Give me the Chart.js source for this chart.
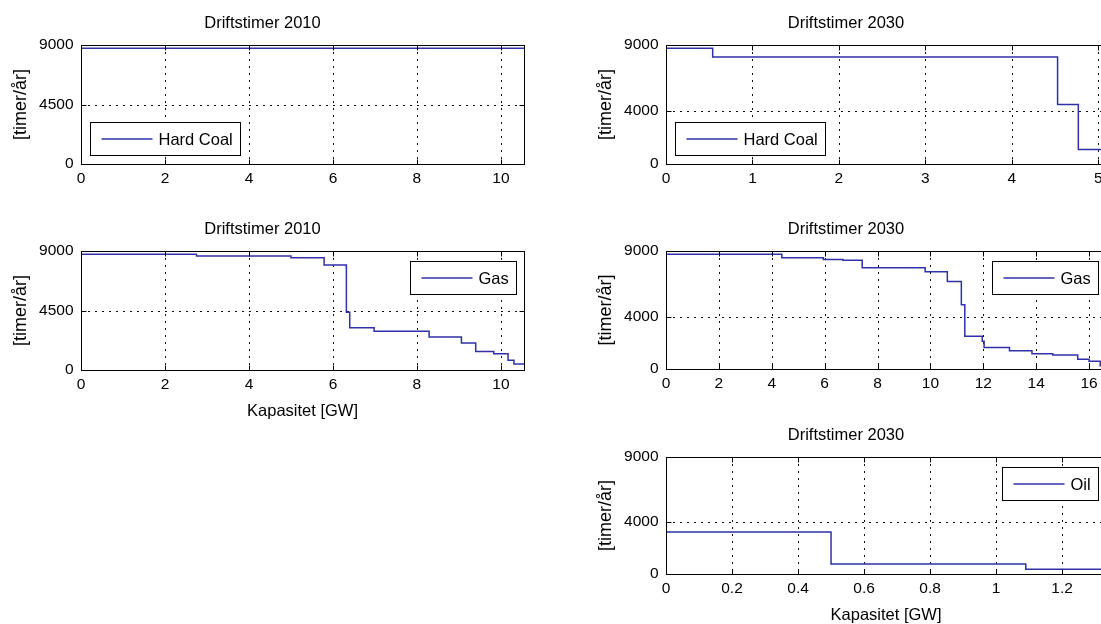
<!DOCTYPE html>
<html>
<head>
<meta charset="utf-8">
<title>Driftstimer</title>
<script src="https://cdn.jsdelivr.net/npm/chart.js@4.4.1/dist/chart.umd.min.js"></script>
<style>
  html, body { margin: 0; padding: 0; background: #fff; }
  body { width: 1101px; height: 624px; overflow: hidden; position: relative; }
  canvas { position: absolute; }
</style>
</head>
<body>
<canvas id="coal2010"></canvas>
<canvas id="gas2010"></canvas>
<canvas id="coal2030"></canvas>
<canvas id="gas2030"></canvas>
<canvas id="oil2030"></canvas>
<script>
// ---------- data: cumulative capacity [GW] where each step starts, and hours per step ----------
const coal2010Cap = [0, 10.55];
const coal2010Hours = [8760];

const gas2010Cap = [0, 2.75, 5.0, 5.79, 6.32, 6.4, 6.98, 8.29, 9.06, 9.4, 9.83, 10.17, 10.31, 10.55];
const gas2010Hours = [8760, 8620, 8490, 7950, 4360, 3190, 2930, 2500, 2040, 1400, 1230, 740, 450];

const coal2030Cap = [0, 0.54, 4.53, 4.77, 5.09];
const coal2030Hours = [8760, 8100, 4500, 1100];

const gas2030Cap = [0, 4.38, 5.95, 6.69, 7.42, 9.8, 10.64, 11.17, 11.3, 11.96, 12.03, 12.99, 13.84, 14.63, 15.57, 16.0, 16.42, 16.64];
const gas2030Hours = [8760, 8490, 8360, 8290, 7720, 7420, 6680, 4900, 2500, 2120, 1640, 1400, 1170, 1060, 740, 590, 250];

const oil2030Cap = [0, 0.5, 1.09, 1.333];
const oil2030Hours = [3230, 760, 370];

// ---------- tick labels ----------
const xTicks2010 = [0, 2, 4, 6, 8, 10];
const xTicksCoal2030 = [0, 1, 2, 3, 4, 5];
const xTicksGas2030 = [0, 2, 4, 6, 8, 10, 12, 14, 16];
const xTicksOil2030 = [0, 0.2, 0.4, 0.6, 0.8, 1, 1.2];
const yTicks2010 = [0, 4500, 9000];
const yTicks2030 = [0, 4000, 9000];

const FONT = '"Liberation Sans", Arial, Helvetica, sans-serif';
const LINE = '#3030a8';

Chart.defaults.font.family = FONT;
Chart.defaults.color = '#000';

function stairs(cap, hours) {
  const pts = hours.map((h, i) => ({ x: cap[i], y: h }));
  pts.push({ x: cap[cap.length - 1], y: hours[hours.length - 1] });
  return pts;
}

/* dotted grid, black frame with inward ticks, legend box inside the axes */
const matlabAxes = {
  id: 'matlabAxes',
  beforeDatasetsDraw(chart) {
    const { ctx, chartArea: a, scales: { x, y } } = chart;
    ctx.save();
    ctx.strokeStyle = '#111';
    ctx.lineWidth = 1;
    ctx.setLineDash([2, 5]);
    x.ticks.forEach(t => {
      const px = Math.round(x.getPixelForValue(t.value)) + 0.5;
      if (px < a.left + 2 || px > a.right - 2) return;
      ctx.beginPath(); ctx.moveTo(px, a.top); ctx.lineTo(px, a.bottom); ctx.stroke();
    });
    y.ticks.forEach(t => {
      const py = Math.round(y.getPixelForValue(t.value)) + 0.5;
      if (py < a.top + 2 || py > a.bottom - 2) return;
      ctx.beginPath(); ctx.moveTo(a.left, py); ctx.lineTo(a.right, py); ctx.stroke();
    });
    ctx.restore();
  },
  afterDatasetsDraw(chart) {
    const { ctx, chartArea: a, scales: { x, y } } = chart;
    const L = Math.round(a.left) + 0.5, R = Math.round(a.right) + 0.5;
    const T = Math.round(a.top) + 0.5, B = Math.round(a.bottom) + 0.5;
    ctx.save();
    ctx.strokeStyle = '#000';
    ctx.lineWidth = 1;
    ctx.strokeRect(L, T, R - L, B - T);
    ctx.beginPath();
    x.ticks.forEach(t => {
      const px = Math.round(x.getPixelForValue(t.value)) + 0.5;
      ctx.moveTo(px, B); ctx.lineTo(px, B - 5);
      ctx.moveTo(px, T); ctx.lineTo(px, T + 5);
    });
    y.ticks.forEach(t => {
      const py = Math.round(y.getPixelForValue(t.value)) + 0.5;
      ctx.moveTo(L, py); ctx.lineTo(L + 5, py);
      ctx.moveTo(R, py); ctx.lineTo(R - 5, py);
    });
    ctx.stroke();
    ctx.restore();
  },
  afterDraw(chart, args, opts) {
    const { ctx, chartArea: a } = chart;
    const ds = chart.data.datasets[0];
    ctx.save();
    ctx.font = '16.5px ' + FONT;
    const tw = ctx.measureText(ds.label).width;
    const w = Math.round(11 + 51 + 6 + tw + 8), h = 33;
    let bx = opts.corner === 'sw' ? a.left + 9 : a.right - 8 - w;
    let by = opts.corner === 'sw' ? a.bottom - 9 - h : a.top + 10;
    bx = Math.round(bx) + 0.5;
    by = Math.round(by) + 0.5;
    ctx.fillStyle = '#fff';
    ctx.fillRect(bx, by, w, h);
    ctx.strokeStyle = '#000';
    ctx.lineWidth = 1;
    ctx.strokeRect(bx, by, w, h);
    ctx.strokeStyle = ds.borderColor;
    ctx.lineWidth = 1.5;
    ctx.beginPath();
    ctx.moveTo(bx + 11, by + h / 2);
    ctx.lineTo(bx + 62, by + h / 2);
    ctx.stroke();
    ctx.fillStyle = '#000';
    ctx.textBaseline = 'middle';
    ctx.fillText(ds.label, bx + 68, by + h / 2 + 1);
    ctx.restore();
  }
};

function makeChart(id, plot, cap, hours, label, title, xTicks, xMax, yTicks, corner, xLabel) {
  const bottomSpace = xLabel ? 60 : 30;
  const canvas = document.getElementById(id);
  canvas.width = plot.w + 80 + 10;
  canvas.height = 45 + plot.h + bottomSpace;
  canvas.style.left = (plot.left - 80) + 'px';
  canvas.style.top = (plot.top - 45) + 'px';

  return new Chart(canvas, {
    type: 'line',
    data: {
      datasets: [{
        label: label,
        data: stairs(cap, hours),
        stepped: 'before',
        borderColor: LINE,
        borderWidth: 1.5,
        pointRadius: 0,
        fill: false
      }]
    },
    options: {
      responsive: false,
      animation: false,
      layout: { padding: { left: 0, right: 10, top: 0, bottom: 0 } },
      plugins: {
        legend: { display: false },
        tooltip: { enabled: false },
        title: {
          display: true, text: title, color: '#000',
          font: { size: 16.5, weight: 'normal' },
          padding: { top: 14, bottom: 11.2 }
        },
        matlabAxes: { corner: corner }
      },
      scales: {
        x: {
          type: 'linear', min: 0, max: xMax,
          grid: { display: false, drawTicks: false },
          border: { display: false },
          ticks: { color: '#000', font: { size: 15.5 }, padding: 5.7, maxRotation: 0, autoSkip: false, callback: v => String(v) },
          afterBuildTicks: s => { s.ticks = xTicks.map(v => ({ value: v })); },
          afterFit: s => { s.height = bottomSpace; },
          title: {
            display: !!xLabel, text: xLabel || '', color: '#000',
            font: { size: 16.5 }, padding: { top: 0, bottom: 9.1 }
          }
        },
        y: {
          type: 'linear', min: 0, max: 9000,
          grid: { display: false, drawTicks: false },
          border: { display: false },
          ticks: { color: '#000', font: { size: 15.5 }, padding: 7.5, autoSkip: false, callback: v => String(v) },
          afterBuildTicks: s => { s.ticks = yTicks.map(v => ({ value: v })); },
          afterFit: s => { s.width = 80; },
          title: {
            display: true, text: '[timer/år]', color: '#000',
            font: { size: 18 }, padding: { top: 9.2, bottom: 0 }
          }
        }
      }
    },
    plugins: [matlabAxes]
  });
}

makeChart('coal2010', { left: 81, top: 45, w: 443, h: 119 }, coal2010Cap, coal2010Hours,
  'Hard Coal', 'Driftstimer 2010', xTicks2010, 10.55, yTicks2010, 'sw', null);
makeChart('gas2010', { left: 81, top: 251, w: 443, h: 119 }, gas2010Cap, gas2010Hours,
  'Gas', 'Driftstimer 2010', xTicks2010, 10.55, yTicks2010, 'ne', 'Kapasitet [GW]');
makeChart('coal2030', { left: 666, top: 45, w: 440, h: 119 }, coal2030Cap, coal2030Hours,
  'Hard Coal', 'Driftstimer 2030', xTicksCoal2030, 5.09, yTicks2030, 'sw', null);
makeChart('gas2030', { left: 666, top: 251, w: 440, h: 118 }, gas2030Cap, gas2030Hours,
  'Gas', 'Driftstimer 2030', xTicksGas2030, 16.64, yTicks2030, 'ne', null);
makeChart('oil2030', { left: 666, top: 457, w: 440, h: 117 }, oil2030Cap, oil2030Hours,
  'Oil', 'Driftstimer 2030', xTicksOil2030, 1.333, yTicks2030, 'ne', 'Kapasitet [GW]');
</script>
</body>
</html>
